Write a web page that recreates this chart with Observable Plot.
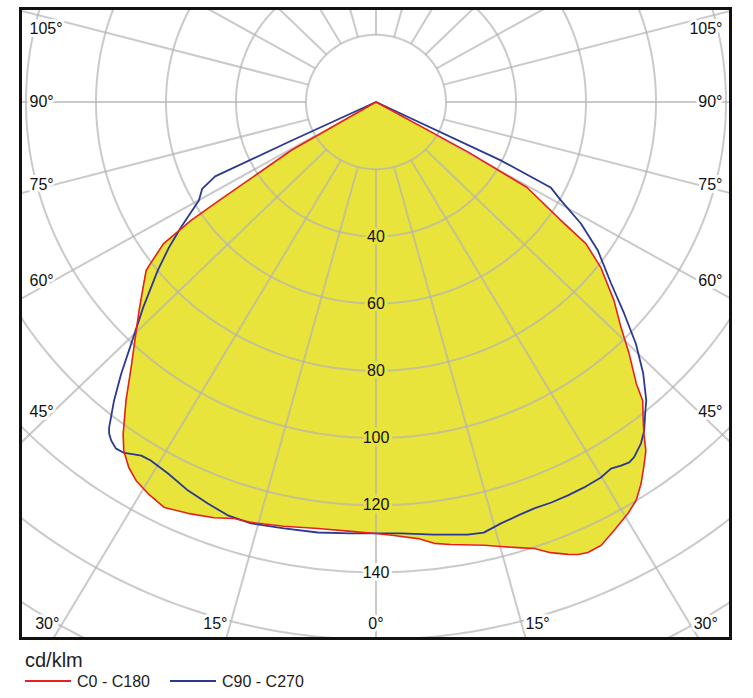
<!DOCTYPE html>
<html><head><meta charset="utf-8">
<script src="https://cdn.jsdelivr.net/npm/d3@7"></script>
<script src="https://cdn.jsdelivr.net/npm/@observablehq/plot@0.6"></script>
<style>
body{margin:0;background:#fff;font-family:"Liberation Sans",Arial,sans-serif;}
#legend svg{display:block;}
#chart svg{display:block;}
</style></head><body>
<div id="chart"></div>
<div id="legend"></div>
<script>
// ---- data (gamma in degrees, negative = left half; intensity in cd/klm) ----
const gammaC0 = [-90, -59.3, -56.8, -56.3, -55.2, -53.1, -52.6, -50.3, -47.5, -44.9, -41.5, -38.8, -36.2, -34.8, -33.0, -31.3, -29.2, -26.6, -23.7, -20.5, -18.1, -15.9, -11.8, -7.4, -3.2, 0, 2.3, 5.3, 7.2, 9.2, 13.2, 15.1, 17.0, 18.8, 20.4, 22.2, 23.2, 24.3, 26.0, 28.1, 30.4, 32.1, 33.7, 35.1, 36.6, 37.8, 39.1, 40.6, 41.6, 44.0, 46.2, 49.0, 52.5, 54.9, 56.3, 59.5, 60.5, 90];
const intensityC0 = [0, 28, 54, 63.5, 74, 81, 82.7, 86.5, 91.8, 97.2, 105.6, 114, 122.3, 126.3, 129.7, 131.9, 133.5, 135, 133.7, 132.1, 130.4, 130.1, 129, 128, 128, 128.4, 129.1, 130.5, 132.4, 133.4, 135.5, 137, 138.7, 140.4, 143.1, 145.4, 146.5, 147.1, 146.8, 144.5, 142.1, 139.9, 136.5, 133, 129.3, 124.9, 121, 117.1, 112, 104.1, 97, 90.1, 81, 73.3, 63.5, 50, 30, 0];
const gammaC90 = [-90, -64.5, -64.3, -62.5, -59.9, -56.2, -53.8, -51.2, -47.4, -44.2, -42.0, -40.1, -38.2, -37.7, -36.9, -35.8, -34.7, -32.5, -31.1, -28.3, -24.9, -21.9, -19.0, -15.9, -11.7, -7.4, -3.2, 0, 3.2, 7.3, 11.5, 13.5, 15.9, 18.2, 20.5, 22.8, 25.1, 27.4, 29.9, 31.6, 32.9, 34.0, 34.9, 36.7, 38.1, 39.7, 41.0, 43.4, 45.9, 48.4, 51.2, 55.1, 58.3, 61.0, 63.0, 64.0, 90];
const intensityC90 = [0, 27, 51, 56, 58.5, 67.1, 73.3, 80, 90.4, 100.3, 108.8, 116.2, 123.3, 124.7, 126, 127.1, 126.9, 124.8, 124.6, 125.5, 127.5, 128.8, 130.1, 130.4, 129.6, 129.2, 128.6, 128.4, 128.6, 129.8, 131.4, 131.8, 130.4, 129.6, 129.1, 129.3, 129.3, 129.2, 128.9, 128.1, 128.9, 129.4, 128.9, 126.7, 124.2, 120.4, 117.7, 111.1, 103.4, 94.8, 86.2, 77.3, 68.8, 60.4, 56, 40, 0];

const seriesNames = ["C0 - C180", "C90 - C270"];
const unitLabel = "cd/klm";
const gridRadii = [20, 40, 60, 80, 100, 120, 140, 160, 180, 200, 220];
const radialTickValues = [40, 60, 80, 100, 120, 140];
const spokeAngles = [0, 15, 30, 45, 60, 75, 90, 105, 120, 135, 150, 165, 180, 195, 210, 225, 240, 255, 270, 285, 300, 315, 330, 345];
const sideTickAngles = [105, 90, 75, 60, 45];
const bottomTickAngles = [30, 15, 0];

// ---- geometry of the picture ----
const W = 753, H = 642;
const L = 20, R = 730, T = 8, B = 638;
const CX = 375.5, CY = 101.5, KX = 3.5, KY = 3.36;
const YELLOW = "#e9e43b", RED = "#e4211c", BLUE = "#2b3990";

const rad = d => d * Math.PI / 180;
const px = (g, r) => r * Math.sin(rad(g));
const py = (g, r) => -r * Math.cos(rad(g));
const toDataY = yPix => (CY - yPix) / KY;
const toDataX = xPix => (xPix - CX) / KX;

const c0 = gammaC0.map((g, i) => ({x: px(g, intensityC0[i]), y: py(g, intensityC0[i])}));
const c90 = gammaC90.map((g, i) => ({x: px(g, intensityC90[i]), y: py(g, intensityC90[i])}));

const circlePts = gridRadii.flatMap(r => d3.range(0, 361, 1).map(a => ({r, x: px(a, r), y: py(a, r)})));
const spokes = spokeAngles.map(a => ({x1: px(a, 20), y1: py(a, 20), x2: px(a, 260), y2: py(a, 260)}));

// side tick labels: at crossing of spoke with a vertical near the frame
const sideX = (CX - 45) / KX;
const sideLabels = [];
for (const a of sideTickAngles) {
  const cot = Math.cos(rad(a)) / Math.sin(rad(a));
  let yPix = CY + sideX * cot * KY - 7 * cot;
  yPix = Math.max(yPix, T + 20);
  sideLabels.push({x: toDataX(29), y: toDataY(yPix), t: a + "°", anchor: "start"});
  sideLabels.push({x: toDataX(722), y: toDataY(yPix), t: a + "°", anchor: "end"});
}
const bottomY = 623;
const bottomLabels = [];
for (const a of bottomTickAngles) {
  const dx = (bottomY - CY) / KY * Math.tan(rad(a));
  if (a === 0) bottomLabels.push({x: 0, y: toDataY(bottomY), t: a + "°", anchor: "middle"});
  else {
    bottomLabels.push({x: -dx, y: toDataY(bottomY), t: a + "°", anchor: "end"});
    bottomLabels.push({x: dx, y: toDataY(bottomY), t: a + "°", anchor: "start"});
  }
}
const radialInside = radialTickValues.filter(v => v <= 120).map(v => ({x: 0, y: -v, t: String(v)}));
const radialOutside = radialTickValues.filter(v => v > 120).map(v => ({x: 0, y: -v, t: String(v)}));

const gridStyle = {stroke: "#b4b4b4", strokeOpacity: 0.7, strokeWidth: 2, clip: true};
const labelStyle = {x: "x", y: "y", text: "t", fontSize: 16, fill: "#111", strokeWidth: 6};

const chart = Plot.plot({
  width: W, height: H,
  marginLeft: L, marginRight: W - R, marginTop: T, marginBottom: H - B,
  x: {domain: [toDataX(L), toDataX(R)], axis: null},
  y: {domain: [toDataY(B), toDataY(T)], axis: null},
  style: {fontFamily: "'Liberation Sans', Arial, sans-serif", fontSize: "16px", background: "white", color: "#111"},
  marks: [
    Plot.area(c0, {x1: "x", y1: "y", x2: 0, y2: 0, fill: YELLOW, stroke: "none", curve: "linear"}),
    Plot.line(circlePts, {x: "x", y: "y", z: "r", ...gridStyle, fill: "none"}),
    Plot.link(spokes, {x1: "x1", y1: "y1", x2: "x2", y2: "y2", ...gridStyle}),
    Plot.line(c90, {x: "x", y: "y", stroke: BLUE, strokeWidth: 1.8, curve: "linear"}),
    Plot.line(c0, {x: "x", y: "y", stroke: RED, strokeWidth: 1.6, curve: "linear"}),
    Plot.text(radialInside, {...labelStyle, stroke: YELLOW}),
    Plot.text(radialOutside, {...labelStyle, stroke: "white"}),
    Plot.text(sideLabels.filter(d => d.anchor === "start"), {...labelStyle, textAnchor: "start", stroke: "white"}),
    Plot.text(sideLabels.filter(d => d.anchor === "end"), {...labelStyle, textAnchor: "end", stroke: "white"}),
    Plot.text(bottomLabels.filter(d => d.anchor === "middle"), {...labelStyle, textAnchor: "middle", stroke: "white"}),
    Plot.text(bottomLabels.filter(d => d.anchor === "end"), {...labelStyle, textAnchor: "end", dx: -3, stroke: "white"}),
    Plot.text(bottomLabels.filter(d => d.anchor === "start"), {...labelStyle, textAnchor: "start", dx: 4, stroke: "white"}),
    Plot.frame({stroke: "#111", strokeWidth: 3})
  ]
});
document.getElementById("chart").appendChild(chart);

// ---- legend ----
const lg = d3.select("#legend").append("svg").attr("width", W).attr("height", 56)
  .style("font-family", "'Liberation Sans', Arial, sans-serif");
lg.append("text").attr("x", 25).attr("y", 25).attr("font-size", 20).attr("fill", "#222").text(unitLabel);
const items = [{name: seriesNames[0], color: RED, x: 25}, {name: seriesNames[1], color: BLUE, x: 170}];
for (const it of items) {
  lg.append("line").attr("x1", it.x).attr("x2", it.x + 46).attr("y1", 39).attr("y2", 39)
    .attr("stroke", it.color).attr("stroke-width", 2);
  lg.append("text").attr("x", it.x + 52).attr("y", 45).attr("font-size", 16).attr("fill", "#222").text(it.name);
}
</script>
</body></html>
